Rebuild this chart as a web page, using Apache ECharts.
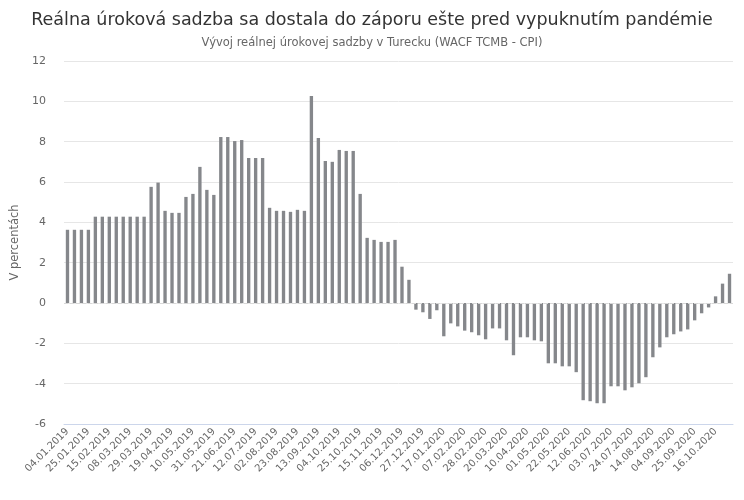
<!DOCTYPE html>
<html>
<head>
<meta charset="utf-8">
<script src="https://cdn.jsdelivr.net/npm/echarts@6/dist/echarts.min.js"></script>
<style>
  html, body { margin: 0; padding: 0; background: #fff; }
  #chart { width: 744px; height: 500px; }
</style>
</head>
<body>
<div id="chart"></div>
<script>
// weekly observations (Fridays)
const dates = [
  "04.01.2019", "11.01.2019", "18.01.2019", "25.01.2019", "01.02.2019", "08.02.2019", "15.02.2019", "22.02.2019",
  "01.03.2019", "08.03.2019", "15.03.2019", "22.03.2019", "29.03.2019", "05.04.2019", "12.04.2019", "19.04.2019",
  "26.04.2019", "03.05.2019", "10.05.2019", "17.05.2019", "24.05.2019", "31.05.2019", "07.06.2019", "14.06.2019",
  "21.06.2019", "28.06.2019", "05.07.2019", "12.07.2019", "19.07.2019", "26.07.2019", "02.08.2019", "09.08.2019",
  "16.08.2019", "23.08.2019", "30.08.2019", "06.09.2019", "13.09.2019", "20.09.2019", "27.09.2019", "04.10.2019",
  "11.10.2019", "18.10.2019", "25.10.2019", "01.11.2019", "08.11.2019", "15.11.2019", "22.11.2019", "29.11.2019",
  "06.12.2019", "13.12.2019", "20.12.2019", "27.12.2019", "03.01.2020", "10.01.2020", "17.01.2020", "24.01.2020",
  "31.01.2020", "07.02.2020", "14.02.2020", "21.02.2020", "28.02.2020", "06.03.2020", "13.03.2020", "20.03.2020",
  "27.03.2020", "03.04.2020", "10.04.2020", "17.04.2020", "24.04.2020", "01.05.2020", "08.05.2020", "15.05.2020",
  "22.05.2020", "29.05.2020", "05.06.2020", "12.06.2020", "19.06.2020", "26.06.2020", "03.07.2020", "10.07.2020",
  "17.07.2020", "24.07.2020", "31.07.2020", "07.08.2020", "14.08.2020", "21.08.2020", "28.08.2020", "04.09.2020",
  "11.09.2020", "18.09.2020", "25.09.2020", "02.10.2020", "09.10.2020", "16.10.2020", "23.10.2020", "30.10.2020"
];

const realRate = [
  3.63, 3.63, 3.63, 3.63, 4.28, 4.28, 4.28, 4.28,
  4.28, 4.28, 4.28, 4.28, 5.76, 5.97, 4.57, 4.47,
  4.47, 5.26, 5.41, 6.75, 5.61, 5.36, 8.23, 8.23,
  8.03, 8.08, 7.19, 7.19, 7.19, 4.72, 4.57, 4.57,
  4.52, 4.62, 4.57, 10.26, 8.18, 7.04, 7.0, 7.59,
  7.54, 7.54, 5.41, 3.23, 3.13, 3.03, 3.03, 3.13,
  1.8, 1.15, -0.33, -0.46, -0.79, -0.36, -1.65, -1.01,
  -1.16, -1.37, -1.45, -1.6, -1.8, -1.26, -1.26, -1.85,
  -2.59, -1.7, -1.7, -1.85, -1.9, -2.99, -2.99, -3.14,
  -3.14, -3.43, -4.82, -4.87, -4.97, -4.97, -4.13, -4.13,
  -4.33, -4.18, -3.98, -3.68, -2.69, -2.2, -1.7, -1.55,
  -1.41, -1.31, -0.86, -0.51, -0.22, 0.33, 0.96, 1.45
];

const FONT = "DejaVu Sans";

const chart = echarts.init(document.getElementById("chart"), null, { renderer: "canvas" });

chart.setOption({
  animation: false,
  textStyle: { fontFamily: FONT },
  title: {
    text: "Reálna úroková sadzba sa dostala do záporu ešte pred vypuknutím pandémie",
    subtext: "Vývoj reálnej úrokovej sadzby v Turecku (WACF TCMB - CPI)",
    left: "center",
    top: 6,
    itemGap: 8,
    textStyle: { fontFamily: FONT, fontSize: 17.5, fontWeight: "normal", color: "#333333" },
    subtextStyle: { fontFamily: FONT, fontSize: 11.5, color: "#666666" }
  },
  grid: { left: 64, right: 11, top: 61, bottom: 76, containLabel: false },
  xAxis: {
    type: "category",
    data: dates,
    axisLine: { show: true, onZero: false, lineStyle: { color: "#ccd6eb" } },
    axisTick: { show: false },
    axisLabel: {
      interval: 2,
      rotate: 45,
      color: "#666666",
      fontSize: 10,
      fontFamily: FONT,
      margin: 6
    }
  },
  yAxis: {
    type: "value",
    min: -6,
    max: 12,
    interval: 2,
    name: "V percentách",
    nameLocation: "middle",
    nameGap: 34,
    nameTextStyle: { color: "#666666", fontSize: 11.5, fontFamily: FONT },
    axisLine: { show: false },
    axisTick: { show: false },
    axisLabel: { color: "#666666", fontSize: 11, fontFamily: FONT, margin: 18 },
    splitLine: { lineStyle: { color: "#e6e6e6", width: 1 } }
  },
  series: [
    {
      type: "bar",
      data: realRate,
      barWidth: "48%",
      itemStyle: { color: "#85878b" },
      markLine: {
        silent: true,
        symbol: "none",
        label: { show: false },
        lineStyle: { color: "#d8d8d8", type: "dashed", width: 1 },
        data: [{ yAxis: 0 }]
      }
    }
  ]
});
</script>
</body>
</html>
